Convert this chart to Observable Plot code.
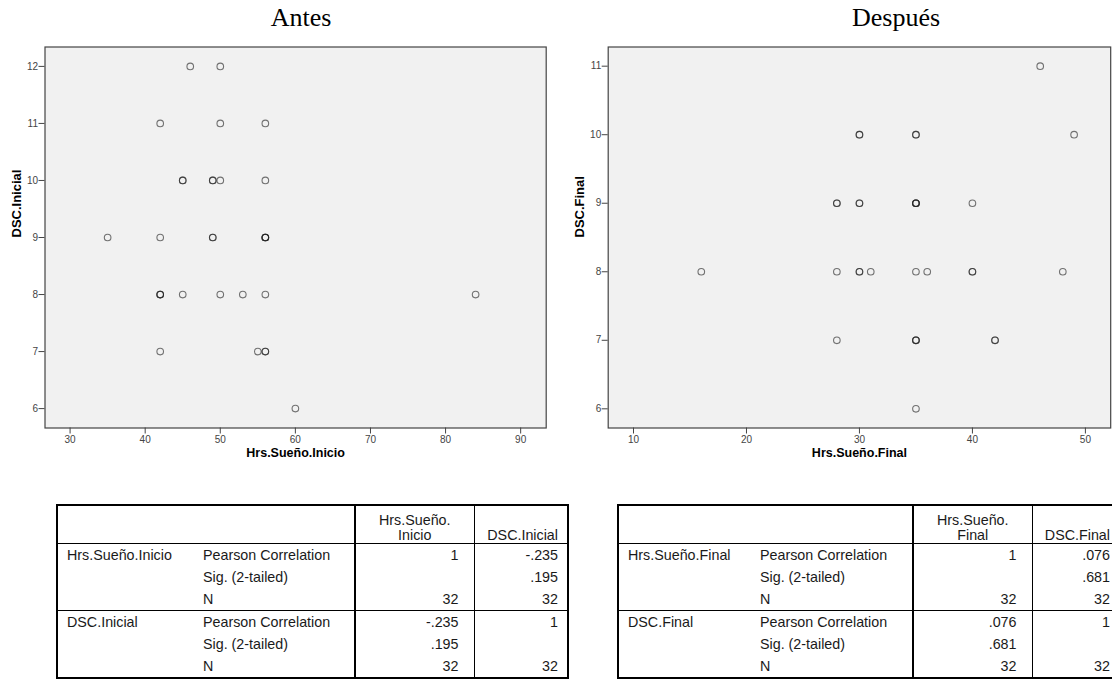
<!DOCTYPE html>
<html><head><meta charset="utf-8">
<script src="https://cdn.jsdelivr.net/npm/d3@7"></script>
<script src="https://cdn.jsdelivr.net/npm/@observablehq/plot@0.6"></script>
<style>
html,body{margin:0;padding:0;background:#fff;}
body{width:1112px;height:682px;overflow:hidden;position:relative;font-family:"Liberation Sans",Arial,sans-serif;}
.title{position:absolute;top:5px;font-family:"Liberation Serif",serif;font-size:26px;line-height:1;transform:translateX(-50%);white-space:nowrap;color:#000;}
.chart{position:absolute;top:0;}
table.corr{position:absolute;top:504px;border-collapse:collapse;table-layout:fixed;font-size:14.3px;color:#1a1a1a;border:2px solid #000;}
table.corr td{padding:0;height:22px;white-space:nowrap;overflow:hidden;vertical-align:middle;}
table.corr tr.head td{height:37px;vertical-align:bottom;border-bottom:1px solid #000;line-height:15px;padding-bottom:0;}
table.corr td.a{padding-left:9px;}
table.corr td.b{padding-left:7px;}
table.corr td.c{text-align:right;padding-right:15px;border-left:2px solid #000;}
table.corr td.d{text-align:right;padding-right:9px;border-left:1px solid #000;}
table.corr tr.head td.c{text-align:center;padding-right:0;}
table.corr tr.grp td{border-top:1px solid #000;}
</style>
</head><body>
<div id="root"></div>
<script>
// ---------- data ----------
const titles = ["Antes", "Después"];

// Antes: Hrs.Sueño.Inicio (x) vs DSC.Inicial (y), N = 32
const hrsInicio  = [46,50, 42,50,56, 45,45,49,49,50,56, 35,42,49,49,56,56,56,56, 42,42,42,45,50,53,56,84, 42,55,56,56, 60];
const dscInicial = [12,12, 11,11,11, 10,10,10,10,10,10,  9, 9, 9, 9, 9, 9, 9, 9,  8, 8, 8, 8, 8, 8, 8, 8,  7, 7, 7, 7,  6];

// Después: Hrs.Sueño.Final (x) vs DSC.Final (y), N = 32
const hrsFinal  = [46, 30,30,35,35,49, 28,28,30,30,35,35,35,35,40, 16,28,30,30,31,35,36,40,40,48, 28,35,35,35,42,42, 35];
const dscFinal  = [11, 10,10,10,10,10,  9, 9, 9, 9, 9, 9, 9, 9, 9,  8, 8, 8, 8, 8, 8, 8, 8, 8, 8,  7, 7, 7, 7, 7, 7,  6];

const xTicksInicio = [30, 40, 50, 60, 70, 80, 90];
const yTicksInicio = [6, 7, 8, 9, 10, 11, 12];
const xTicksFinal  = [10, 20, 30, 40, 50];
const yTicksFinal  = [6, 7, 8, 9, 10, 11];

const axisLabels = {
  inicio: {x: "Hrs.Sueño.Inicio", y: "DSC.Inicial"},
  final:  {x: "Hrs.Sueño.Final",  y: "DSC.Final"}
};

// correlation tables
const statLabels = ["Pearson Correlation", "Sig. (2-tailed)", "N"];
const headInicio = ["Hrs.Sueño.<br>Inicio", "DSC.Inicial"];
const varsInicio = ["Hrs.Sueño.Inicio", "DSC.Inicial"];
const valsInicio = [["1", "-.235"], ["", ".195"], ["32", "32"], ["-.235", "1"], [".195", ""], ["32", "32"]];
const headFinal = ["Hrs.Sueño.<br>Final", "DSC.Final"];
const varsFinal = ["Hrs.Sueño.Final", "DSC.Final"];
const valsFinal = [["1", ".076"], ["", ".681"], ["32", "32"], [".076", "1"], [".681", ""], ["32", "32"]];

// ---------- drawing ----------
const root = document.getElementById("root");

function scatter({xs, ys, xDomain, yDomain, xTicks, yTicks, labels, width, mL, mR, left}) {
  const data = xs.map((x, i) => ({x, y: ys[i]}));
  const svg = Plot.plot({
    width, height: 470,
    marginLeft: mL, marginRight: mR, marginTop: 46.5, marginBottom: 42.5,
    x: {domain: xDomain},
    y: {domain: yDomain},
    style: {fontFamily: "'Liberation Sans', Arial, sans-serif", background: "transparent", overflow: "visible", color: "#000"},
    marks: [
      Plot.frame({fill: "#f1f1f1", stroke: "#444", strokeWidth: 1.2}),
      Plot.axisX({ticks: xTicks, tickFormat: d => String(d), tickSize: 6, tickPadding: 2, fontSize: 10, color: "#444", label: null}),
      Plot.axisY({ticks: yTicks, tickFormat: d => String(d), tickSize: 6, tickPadding: 1, fontSize: 10, color: "#444", label: null}),
      Plot.dot(data, {x: "x", y: "y", r: 3.3, fill: "none", stroke: "#222", strokeOpacity: 0.62, strokeWidth: 1.1}),
      Plot.text([labels.x], {text: d => d, frameAnchor: "bottom", dy: 25, lineAnchor: "middle", fontWeight: "bold", fontSize: 12.5, fill: "#000"}),
      Plot.text([labels.y], {text: d => d, frameAnchor: "left", dx: -28, rotate: -90, lineAnchor: "middle", fontWeight: "bold", fontSize: 13, fill: "#000"})
    ]
  });
  svg.classList.add("chart");
  svg.style.left = left + "px";
  root.appendChild(svg);
}

scatter({xs: hrsInicio, ys: dscInicial, xDomain: [26.66, 93.4], yDomain: [5.66, 12.34],
  xTicks: xTicksInicio, yTicks: yTicksInicio, labels: axisLabels.inicio,
  width: 556, mL: 44.5, mR: 10.3, left: 0});
scatter({xs: hrsFinal, ys: dscFinal, xDomain: [7.76, 52.24], yDomain: [5.72, 11.28],
  xTicks: xTicksFinal, yTicks: yTicksFinal, labels: axisLabels.final,
  width: 556, mL: 51.7, mR: 1.8, left: 556});

function title(text, cx) {
  const d = document.createElement("div");
  d.className = "title"; d.textContent = text; d.style.left = cx + "px";
  root.appendChild(d);
}
title(titles[0], 301);
title(titles[1], 896);

function corrTable(left, widths, head, vars, vals) {
  const t = document.createElement("table");
  t.className = "corr";
  t.style.left = left + "px";
  t.style.width = widths.reduce((a, b) => a + b, 0) + "px";
  const cg = document.createElement("colgroup");
  widths.forEach(w => { const c = document.createElement("col"); c.style.width = w + "px"; cg.appendChild(c); });
  t.appendChild(cg);
  let html = `<tr class="head"><td class="a"></td><td class="b"></td><td class="c">${head[0]}</td><td class="d">${head[1]}</td></tr>`;
  vals.forEach((row, i) => {
    const g = Math.floor(i / 3), k = i % 3;
    html += `<tr class="${k === 0 && g > 0 ? "grp" : ""}"><td class="a">${k === 0 ? vars[g] : ""}</td><td class="b">${statLabels[k]}</td><td class="c">${row[0]}</td><td class="d">${row[1]}</td></tr>`;
  });
  t.insertAdjacentHTML("beforeend", html);
  root.appendChild(t);
}
corrTable(56, [139, 159, 119, 94], headInicio, varsInicio, valsInicio);
corrTable(617, [135, 160, 119, 88], headFinal, varsFinal, valsFinal);
</script>
</body></html>
